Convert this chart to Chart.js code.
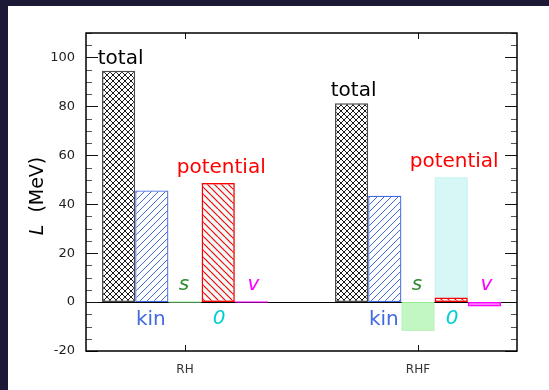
<!DOCTYPE html>
<html>
<head>
<meta charset="utf-8">
<script src="https://cdn.jsdelivr.net/npm/chart.js@4.4.1/dist/chart.umd.min.js"></script>
<style>
  html, body { margin: 0; padding: 0; background: #1b1935; width: 549px; height: 390px; overflow: hidden; }
  #panel { position: absolute; left: 8px; top: 6px; width: 541px; height: 384px; background: #ffffff; }
  canvas { display: block; }
</style>
</head>
<body>
<div id="panel"><canvas id="c" width="541" height="384"></canvas></div>
<script>
// Decomposition of L (MeV) for the two models
const categories = ['RH', 'RHF'];
const categoryPos = [0, 1];
const totalL = [94.6, 81.3];
const kineticL = [45.6, 43.5];
const scalarL = [0, -11.7];
const potentialL = [48.7, 1.9];
const zeroL = [48.7, 51.0];
const vectorL = [0, -1.8];
const yTickValues = [-20, 0, 20, 40, 60, 80, 100];
const yTickLabels = ['-20', '0', '20', '40', '60', '80', '100'];

const FONT = 'DejaVu Sans';

function hatch(color, dirs, size, bg, lw) {
  const c = document.createElement('canvas');
  c.width = c.height = size;
  const g = c.getContext('2d');
  if (bg) { g.fillStyle = bg; g.fillRect(0, 0, size, size); }
  g.strokeStyle = color;
  g.lineWidth = lw;
  const line = (x0, y0, x1, y1) => { g.beginPath(); g.moveTo(x0, y0); g.lineTo(x1, y1); g.stroke(); };
  for (const k of [-size, 0, size]) {
    if (dirs.includes('/')) line(k, size, k + size, 0);
    if (dirs.includes('\\')) line(k, 0, k + size, size);
  }
  return g.createPattern(c, 'repeat');
}

const pts = arr => categoryPos.map((x, i) => ({ x, y: arr[i] }));

const crossFill = hatch('#1a1a1a', '/\\', 6, '#ffffff', 1);
const kinFill = hatch('#4169e1', '/', 7, '#ffffff', 1);
const potFill = hatch('#ff0000', '\\', 7, 'rgba(255,255,255,0.55)', 1.2);

const datasets = [
  { label: 'total', data: pts(totalL), stack: 'total', backgroundColor: crossFill, borderColor: '#4a4a4a', borderWidth: 1.5 },
  { label: 'kin', data: pts(kineticL), stack: 'kin', backgroundColor: kinFill, borderColor: '#4169e1', borderWidth: 1.3 },
  { label: 's', data: pts(scalarL), stack: 's', backgroundColor: ['#90ee90', 'rgba(144,238,144,0.55)'], borderColor: '#90ee90', borderWidth: 1, minBarLength: 1.5 },
  { label: 'potential', data: pts(potentialL), stack: 'pot', backgroundColor: potFill, borderColor: '#ff0000', borderWidth: 1.5 },
  { label: '0', data: pts(zeroL), stack: 'pot', backgroundColor: 'rgba(175,238,238,0.5)', borderColor: '#b4eeee', borderWidth: 1 },
  { label: 'v', data: pts(vectorL), stack: 'v', backgroundColor: ['#ff00ff', 'rgba(255,0,255,0.5)'], borderColor: '#ff00ff', borderWidth: 1.5, minBarLength: 1.5 }
];
datasets.forEach(d => { d.borderSkipped = false; d.categoryPercentage = 0.7125; d.barPercentage = 1; });

// frame, inward ticks and the zero line
const framePlugin = {
  id: 'frame',
  beforeDatasetsDraw(chart) {
    const { ctx, chartArea: a, scales: { y } } = chart;
    const y0 = Math.round(y.getPixelForValue(0)) + 0.5;
    ctx.save();
    ctx.strokeStyle = '#000';
    ctx.lineWidth = 1;
    ctx.beginPath(); ctx.moveTo(a.left, y0); ctx.lineTo(a.right, y0); ctx.stroke();
    ctx.restore();
  },
  afterDatasetsDraw(chart) {
    const { ctx, chartArea: a, scales: { x, y } } = chart;
    ctx.save();
    ctx.lineWidth = 1;
    for (let v = -20; v <= 110; v += 5) {
      const py = Math.round(y.getPixelForValue(v)) + 0.5;
      const major = v % 20 === 0;
      const len = major ? 12 : 6;
      ctx.strokeStyle = major ? '#111' : '#555';
      ctx.beginPath();
      ctx.moveTo(a.left, py); ctx.lineTo(a.left + len, py);
      ctx.moveTo(a.right, py); ctx.lineTo(a.right - len, py);
      ctx.stroke();
    }
    ctx.strokeStyle = '#111';
    for (const v of categoryPos) {
      const px = Math.round(x.getPixelForValue(v)) + 0.5;
      ctx.beginPath();
      ctx.moveTo(px, a.top); ctx.lineTo(px, a.top + 6);
      ctx.moveTo(px, a.bottom); ctx.lineTo(px, a.bottom - 6);
      ctx.stroke();
    }
    ctx.strokeStyle = '#000';
    ctx.lineWidth = 1.5;
    ctx.strokeRect(a.left, a.top, a.right - a.left, a.bottom - a.top);

    // bar annotations
    const m = i => chart.getDatasetMeta(i).data;
    const zeroY = y.getPixelForValue(0);
    const put = (text, px, py, color, italic) => {
      ctx.font = (italic ? 'italic ' : '') + '20px "' + FONT + '"';
      ctx.fillStyle = color;
      ctx.textAlign = 'center';
      ctx.textBaseline = 'alphabetic';
      ctx.fillText(text, px, py);
    };
    for (let i = 0; i < categories.length; i++) {
      const tb = m(0)[i], kb = m(1)[i], sb = m(2)[i], pb = m(3)[i], zb = m(4)[i], vb = m(5)[i];
      put('total', tb.x + 2, tb.y - 7, '#000000', false);
      put('kin', kb.x - 1, zeroY + 23, '#4169e1', false);
      put('s', sb.x - 1, zeroY - 12, '#2e8b2e', true);
      put('potential', pb.x + 3, Math.min(pb.y, zb.y) - 10, '#ff0000', false);
      put('0', zb.x + 1, zeroY + 22, '#00ced1', true);
      put('v', vb.x + 2, zeroY - 12, '#ff00ff', true);
    }

    // y axis title
    ctx.translate(35, (a.top + a.bottom) / 2 + 4);
    ctx.rotate(-Math.PI / 2);
    ctx.fillStyle = '#000';
    ctx.textBaseline = 'alphabetic';
    ctx.textAlign = 'left';
    const f1 = 'italic 19px "' + FONT + '"', f2 = '19px "' + FONT + '"';
    ctx.font = f1; const w1 = ctx.measureText('L').width;
    ctx.font = f2; const w2 = ctx.measureText('  (MeV)').width;
    let sx = -(w1 + w2) / 2;
    ctx.font = f1; ctx.fillText('L', sx, 0);
    ctx.font = f2; ctx.fillText('  (MeV)', sx + w1, 0);
    ctx.restore();
  }
};

new Chart(document.getElementById('c'), {
  type: 'bar',
  data: { datasets },
  options: {
    responsive: false,
    animation: false,
    events: [],
    layout: { padding: { left: 0, right: 32, top: 27, bottom: 0 } },
    plugins: { legend: { display: false }, tooltip: { enabled: false } },
    scales: {
      x: {
        type: 'linear',
        offset: false,
        min: -0.425,
        max: 1.425,
        grid: { display: false, drawTicks: false, offset: false },
        border: { display: false },
        afterBuildTicks: s => { s.ticks = categoryPos.map(v => ({ value: v })); },
        afterFit: s => { s.height = 39; },
        ticks: {
          padding: 12,
          color: '#333',
          font: { family: FONT, size: 12 },
          maxRotation: 0,
          callback: v => categories[categoryPos.indexOf(v)] ?? ''
        }
      },
      y: {
        stacked: false,
        min: -20,
        max: 110,
        grid: { display: false, drawTicks: false },
        border: { display: false },
        afterBuildTicks: s => { s.ticks = yTickValues.map(v => ({ value: v })); },
        afterFit: s => { s.width = 78; },
        ticks: {
          padding: 11,
          color: '#222',
          font: { family: FONT, size: 13 },
          callback: v => yTickLabels[yTickValues.indexOf(v)] ?? ''
        }
      }
    }
  },
  plugins: [framePlugin]
});
</script>
</body>
</html>
